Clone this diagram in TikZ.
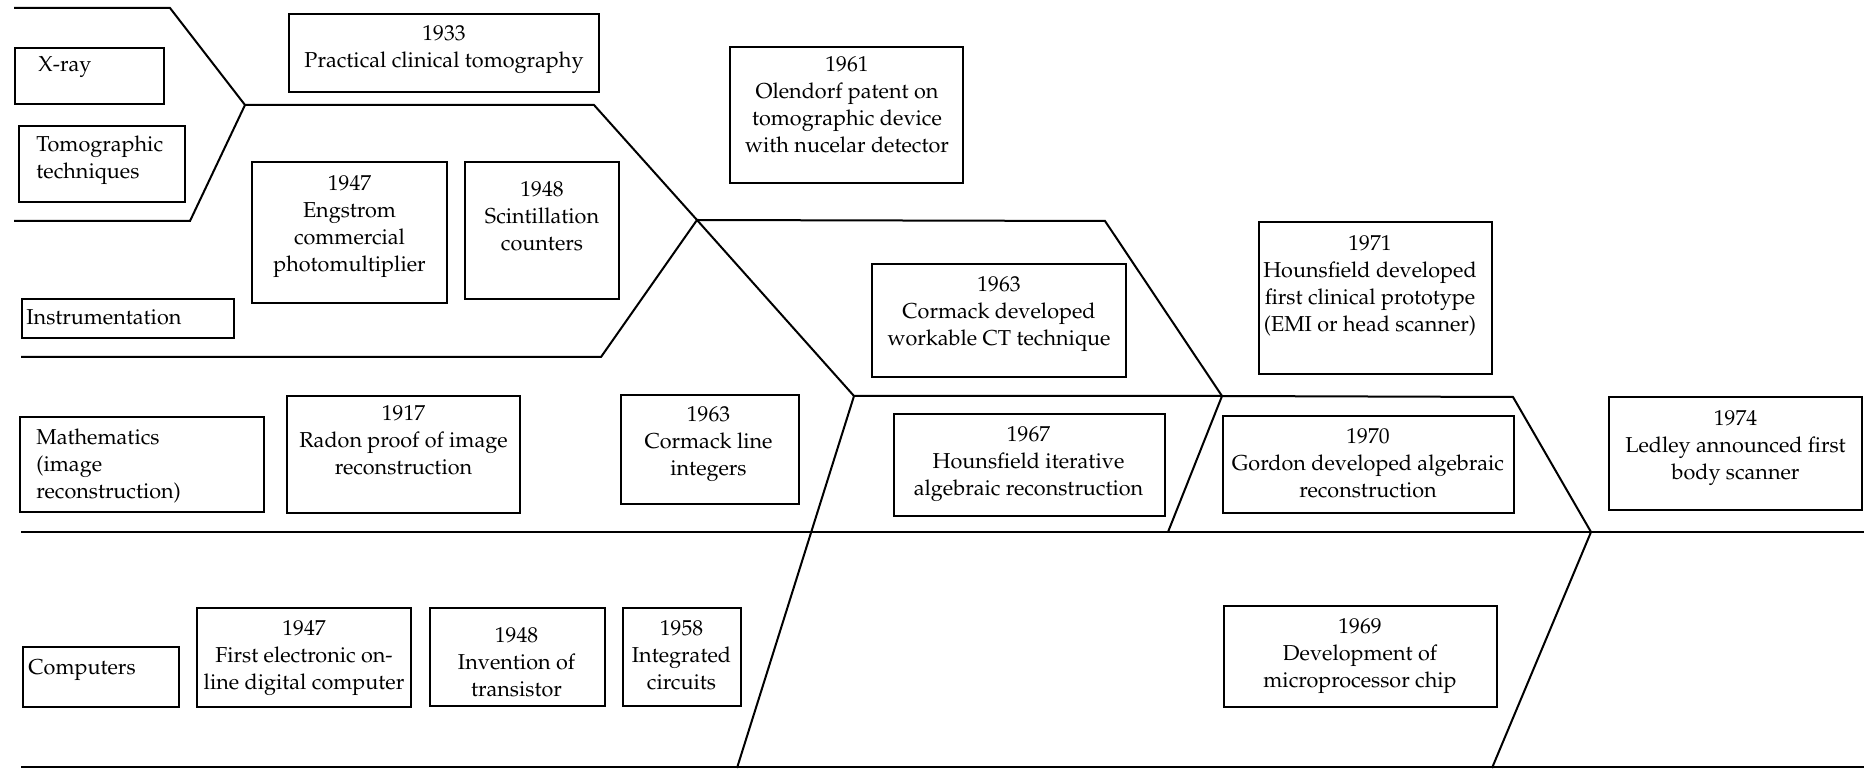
\documentclass[tikz,border=0pt]{standalone}
\usepackage[T1]{fontenc}
\usepackage{mathpazo}
\usetikzlibrary{fit}
\begin{document}
\begin{tikzpicture}[x=0.5pt,y=-0.5pt,
  rule/.style={line width=1pt},
  frame/.style={draw, line width=1pt, inner sep=0pt},
  txtfont/.style={font=\fontsize{10.8}{13.5}\selectfont},
  evtext/.style={txtfont, align=center, inner sep=0pt, anchor=north},
  lbltext/.style={txtfont, align=left, inner sep=0pt, anchor=north west}]
\useasboundingbox (0,0) rectangle (1866,769);

% vertices of the band outlines
\coordinate (p1) at (14,8);
\coordinate (p2) at (170,8);
\coordinate (A)  at (245,105);
\coordinate (p3) at (190,221);
\coordinate (p4) at (14,221);
\coordinate (B)  at (594,105);
\coordinate (C)  at (697,220);
\coordinate (D)  at (601,357);
\coordinate (E)  at (21,357);
\coordinate (F)  at (1105,221);
\coordinate (G)  at (1222,396);
\coordinate (H)  at (854,396);
\coordinate (I)  at (1513,397);
\coordinate (J)  at (1591,532);
\coordinate (K)  at (737,768);
\coordinate (L)  at (1168,532);
\coordinate (M)  at (1492,768);
\coordinate (mainL) at (21,532);
\coordinate (mainR) at (1864,532);
\coordinate (botL)  at (21,767);
\coordinate (botR)  at (1864,767);

% band outlines
\draw[rule] (p1) -- (p2) -- (A) -- (p3) -- (p4);
\draw[rule] (A) -- (B) -- (C) -- (D) -- (E);
\draw[rule] (C) -- (F) -- (G);
\draw[rule] (C) -- (H) -- (G) -- (I) -- (J);
\draw[rule] (H) -- (K);
\draw[rule] (G) -- (L);
\draw[rule] (J) -- (M);
\draw[rule] (mainL) -- (mainR);
\draw[rule] (botL) -- (botR);

% field labels
\node[frame, fit={(15,48) (164,104)}] (fxray) {};
\node[lbltext] (lxray) at (38,56) {X-ray};
\node[frame, fit={(19,126) (185,202)}] (ftomo) {};
\node[lbltext] (ltomo) at (36,135) {Tomographic\\techniques};
\node[frame, fit={(22,299) (234,338)}] (finstr) {};
\node[lbltext] (linstr) at (26,309) {Instrumentation};
\node[frame, fit={(20,417) (264,512)}] (fmath) {};
\node[lbltext] (lmath) at (36,428) {Mathematics\\(image\\reconstruction)};
\node[frame, fit={(23,647) (179,707)}] (fcomp) {};
\node[lbltext] (lcomp) at (28,659) {Computers};

% events
\node[frame, fit={(289,14) (599,92)}] (b1933) {};
\node[evtext] (t1933) at (444,25) {1933\\Practical clinical tomography};

\node[frame, fit={(252,162) (447,303)}] (b1947a) {};
\node[evtext] (t1947a) at (349.5,175) {1947\\Engstrom\\commercial\\photomultiplier};

\node[frame, fit={(465,162) (619,299)}] (b1948a) {};
\node[evtext] (t1948a) at (542,181) {1948\\Scintillation\\counters};

\node[frame, fit={(730,47) (963,183)}] (b1961) {};
\node[evtext] (t1961) at (847,56) {1961\\Olendorf patent on\\tomographic device\\with nucelar detector};

\node[frame, fit={(872,264) (1126,377)}] (b1963a) {};
\node[evtext] (t1963a) at (999,276) {1963\\Cormack developed\\workable CT technique};

\node[frame, fit={(1259,222) (1492,374)}] (b1971) {};
\node[evtext] (t1971) at (1370,235) {1971\\Hounsfield developed\\first clinical prototype\\(EMI or head scanner)};

\node[frame, fit={(287,396) (520,513)}] (b1917) {};
\node[evtext] (t1917) at (403.5,405) {1917\\Radon proof of image\\reconstruction};

\node[frame, fit={(621,395) (799,504)}] (b1963b) {};
\node[evtext] (t1963b) at (708.5,406) {1963\\Cormack line\\integers};

\node[frame, fit={(894,414) (1165,516)}] (b1967) {};
\node[evtext] (t1967) at (1028.5,426) {1967\\Hounsfield iterative\\algebraic reconstruction};

\node[frame, fit={(1223,416) (1514,513)}] (b1970) {};
\node[evtext] (t1970) at (1368,428) {1970\\Gordon developed algebraic\\reconstruction};

\node[frame, fit={(1609,397) (1862,510)}] (b1974) {};
\node[evtext] (t1974) at (1735.5,410) {1974\\Ledley announced first\\body scanner};

\node[frame, fit={(197,608) (411,707)}] (b1947b) {};
\node[evtext] (t1947b) at (304,620) {1947\\First electronic on-\\line digital computer};

\node[frame, fit={(430,608) (605,706)}] (b1948b) {};
\node[evtext] (t1948b) at (516.5,627) {1948\\Invention of\\transistor};

\node[frame, fit={(623,608) (741,706)}] (b1958) {};
\node[evtext] (t1958) at (681.5,620) {1958\\Integrated\\circuits};

\node[frame, fit={(1224,606) (1497,707)}] (b1969) {};
\node[evtext] (t1969) at (1360,618) {1969\\Development of\\microprocessor chip};
\end{tikzpicture}
\end{document}
